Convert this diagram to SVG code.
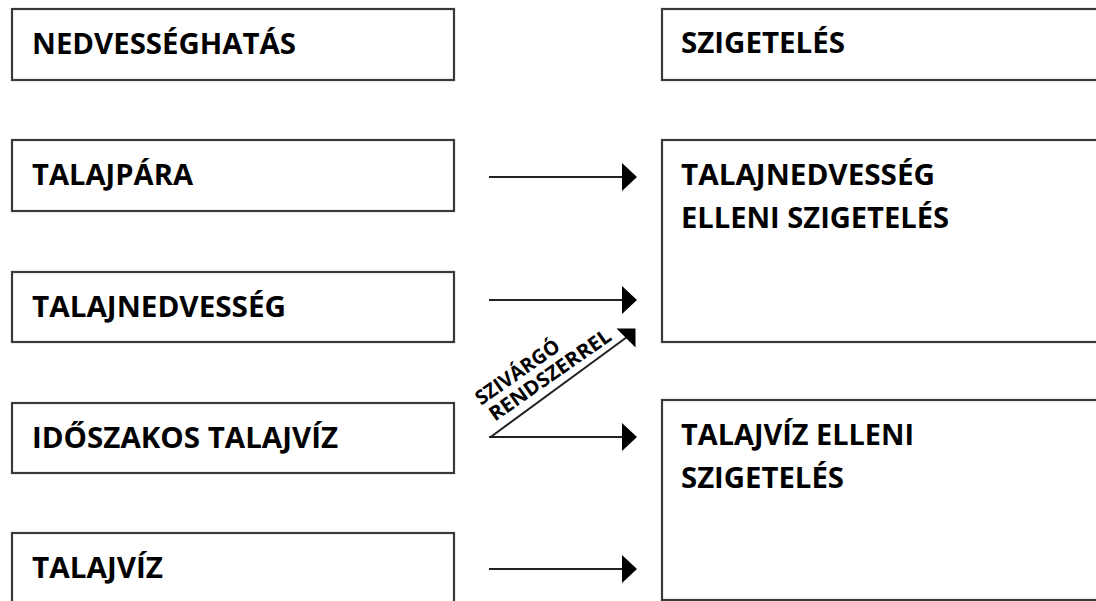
<svg xmlns="http://www.w3.org/2000/svg" width="1096" height="601" viewBox="0 0 1096 601">
<style>
  .box { fill: #ffffff; stroke: #3a3a3a; stroke-width: 2.2; }
  .t { font-family: "Open Sans", "Noto Sans", "Liberation Sans", sans-serif; font-weight: 700; font-size: 28.5px; fill: #000; }
  .s { font-family: "Open Sans", "Noto Sans", "Liberation Sans", sans-serif; font-weight: 700; font-size: 20px; fill: #000; }
  .ln { stroke: #222; stroke-width: 2; fill: none; }
  .hd { fill: #000; stroke: none; }
</style>
<defs>
  <marker id="ah" viewBox="0 0 15 28" refX="14" refY="14" markerWidth="15" markerHeight="28" markerUnits="userSpaceOnUse" orient="auto">
    <path d="M0,0 L15,14 L0,28 Z" class="hd"/>
  </marker>
</defs>
<rect width="1096" height="601" fill="#ffffff"/>

<g id="n-nedvesseghatas">
  <rect class="box" x="12" y="9" width="442" height="71"/>
  <text class="t" x="32" y="54" textLength="264" lengthAdjust="spacingAndGlyphs">NEDVESSÉGHATÁS</text>
</g>
<g id="n-szigeteles">
  <rect class="box" x="662" y="9" width="450" height="71"/>
  <text class="t" x="681" y="53" textLength="164" lengthAdjust="spacingAndGlyphs">SZIGETELÉS</text>
</g>
<g id="n-talajpara">
  <rect class="box" x="12" y="140" width="442" height="71"/>
  <text class="t" x="32" y="185" textLength="161" lengthAdjust="spacingAndGlyphs">TALAJPÁRA</text>
</g>
<g id="n-talajnedvesseg">
  <rect class="box" x="12" y="272" width="442" height="70"/>
  <text class="t" x="32" y="317" textLength="254" lengthAdjust="spacingAndGlyphs">TALAJNEDVESSÉG</text>
</g>
<g id="n-idoszakos">
  <rect class="box" x="12" y="403" width="442" height="70"/>
  <text class="t" x="32" y="448" textLength="306" lengthAdjust="spacingAndGlyphs">IDŐSZAKOS TALAJVÍZ</text>
</g>
<g id="n-talajviz">
  <rect class="box" x="12" y="533" width="442" height="80"/>
  <text class="t" x="32" y="578" textLength="131" lengthAdjust="spacingAndGlyphs">TALAJVÍZ</text>
</g>
<g id="n-talajnedv-szig">
  <rect class="box" x="662" y="140" width="450" height="202"/>
  <text class="t" x="681" y="185" textLength="254" lengthAdjust="spacingAndGlyphs">TALAJNEDVESSÉG</text>
  <text class="t" x="681" y="228" textLength="268" lengthAdjust="spacingAndGlyphs">ELLENI SZIGETELÉS</text>
</g>
<g id="n-talajviz-szig">
  <rect class="box" x="662" y="400" width="450" height="200"/>
  <text class="t" x="681" y="445" textLength="233" lengthAdjust="spacingAndGlyphs">TALAJVÍZ ELLENI</text>
  <text class="t" x="681" y="488" textLength="163" lengthAdjust="spacingAndGlyphs">SZIGETELÉS</text>
</g>

<g id="connectors">
  <line class="ln" x1="489" y1="177" x2="636" y2="177" marker-end="url(#ah)"/>
  <line class="ln" x1="489" y1="300" x2="636" y2="300" marker-end="url(#ah)"/>
  <line class="ln" x1="489" y1="437" x2="636" y2="437" marker-end="url(#ah)"/>
  <line class="ln" x1="489" y1="569" x2="636" y2="569" marker-end="url(#ah)"/>
  <line class="ln" x1="490" y1="437.5" x2="627" y2="337"/>
  <path class="hd" d="M616.5,328.5 L635.5,328.5 L635.5,347.5 Z"/>
  <g transform="translate(490,437.5) rotate(-35)">
    <text class="s" x="11" y="-31" textLength="98" lengthAdjust="spacingAndGlyphs">SZIVÁRGÓ</text>
    <text class="s" x="13" y="-10" textLength="144" lengthAdjust="spacingAndGlyphs">RENDSZERREL</text>
  </g>
</g>
</svg>
